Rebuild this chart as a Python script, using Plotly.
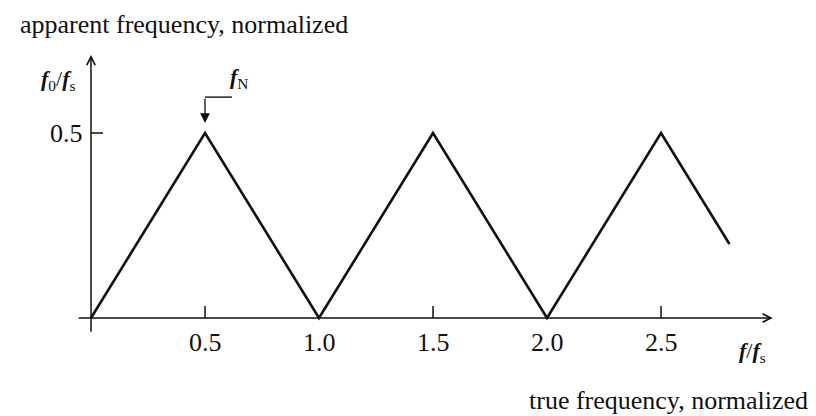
import plotly.graph_objects as go

# Aliasing: apparent (folded) frequency versus true frequency, both normalised by fs
true_freq = [0.0, 0.5, 1.0, 1.5, 2.0, 2.5, 2.8]
apparent_freq = [0.0, 0.5, 0.0, 0.5, 0.0, 0.5, 0.2]

x_tick_vals = [0.5, 1.0, 1.5, 2.0, 2.5]
x_tick_text = ["0.5", "1.0", "1.5", "2.0", "2.5"]
x_tick_marks = [0.5, 1.5, 2.5]
y_tick_vals = [0.5]
y_tick_text = ["0.5"]
nyquist = 0.5

W, H = 816, 416
# pixel placement of the data frame
x0_px, x_unit = 91, 228
y0_px, y_unit = 318, 370
x_range = [-x0_px / x_unit, (W - x0_px) / x_unit]
y_range = [-(H - y0_px) / y_unit, y0_px / y_unit]

FONT = "Liberation Serif"
INK = "#111111"

fig = go.Figure()
fig.add_trace(go.Scatter(
    x=true_freq, y=apparent_freq, mode="lines",
    line=dict(color=INK, width=2.6), hoverinfo="skip", showlegend=False,
))

shapes = []
annotations = []

# axes with arrowheads
annotations.append(dict(
    x=2.99, y=0, ax=-0.061, ay=0, xref="x", yref="y", axref="x", ayref="y",
    showarrow=True, arrowhead=5, arrowsize=1.1, arrowwidth=1.5, arrowcolor=INK, text="",
))
annotations.append(dict(
    x=0, y=0.711, ax=0, ay=-0.041, xref="x", yref="y", axref="x", ayref="y",
    showarrow=True, arrowhead=5, arrowsize=1.1, arrowwidth=1.5, arrowcolor=INK, text="",
))

# tick marks
tick_h = 12 / y_unit
for xv in x_tick_marks:
    shapes.append(dict(type="line", xref="x", yref="y", x0=xv, x1=xv, y0=0, y1=tick_h,
                       line=dict(color=INK, width=1.5)))
tick_w = 12 / x_unit
for yv in y_tick_vals:
    shapes.append(dict(type="line", xref="x", yref="y", x0=0, x1=tick_w, y0=yv, y1=yv,
                       line=dict(color=INK, width=1.5)))

# tick labels
for xv, lab in zip(x_tick_vals, x_tick_text):
    annotations.append(dict(x=xv, y=0, xref="x", yref="y", text=lab, showarrow=False,
                            xanchor="center", yanchor="middle", yshift=-24,
                            font=dict(family=FONT, size=26, color=INK)))
for yv, lab in zip(y_tick_vals, y_tick_text):
    annotations.append(dict(x=0, y=yv, xref="x", yref="y", text=lab, showarrow=False,
                            xanchor="right", yanchor="middle", xshift=-6,
                            font=dict(family=FONT, size=26, color=INK)))

# Nyquist marker: bent arrow pointing at the first peak
bend_y = 0.597
shapes.append(dict(type="line", xref="x", yref="y", x0=nyquist, x1=0.618, y0=bend_y, y1=bend_y,
                   line=dict(color=INK, width=1.4)))
annotations.append(dict(
    x=nyquist, y=0.527, ax=nyquist, ay=bend_y, xref="x", yref="y", axref="x", ayref="y",
    showarrow=True, arrowhead=2, arrowsize=1.5, arrowwidth=1.3, arrowcolor=INK, text="",
))
annotations.append(dict(x=0.65, y=0.65, xref="x", yref="y", text="<b><i>f</i></b><sub>N</sub>",
                        showarrow=False, xanchor="center", yanchor="middle",
                        font=dict(family=FONT, size=22, color=INK)))

# axis symbols
annotations.append(dict(x=58 / W, y=1 - 80 / H, xref="paper", yref="paper",
                        text="<b><i>f</i></b><sub>0</sub>/<b><i>f</i></b><sub>s</sub>",
                        showarrow=False, xanchor="center", yanchor="middle",
                        font=dict(family=FONT, size=22, color=INK)))
annotations.append(dict(x=752 / W, y=1 - 352 / H, xref="paper", yref="paper",
                        text="<b><i>f</i></b>/<b><i>f</i></b><sub>s</sub>",
                        showarrow=False, xanchor="center", yanchor="middle",
                        font=dict(family=FONT, size=22, color=INK)))

# axis descriptions
annotations.append(dict(x=18 / W, y=1 - 24 / H, xref="paper", yref="paper",
                        text="apparent frequency, normalized", showarrow=False,
                        xanchor="left", yanchor="middle",
                        font=dict(family=FONT, size=26, color=INK)))
annotations.append(dict(x=810 / W, y=1 - 400 / H, xref="paper", yref="paper",
                        text="true frequency, normalized", showarrow=False,
                        xanchor="right", yanchor="middle",
                        font=dict(family=FONT, size=26, color=INK)))

fig.update_layout(
    width=W, height=H,
    margin=dict(l=0, r=0, t=0, b=0),
    paper_bgcolor="white", plot_bgcolor="white",
    xaxis=dict(range=x_range, visible=False, fixedrange=True),
    yaxis=dict(range=y_range, visible=False, fixedrange=True),
    shapes=shapes, annotations=annotations, showlegend=False,
)

fig.write_html("out.html")
